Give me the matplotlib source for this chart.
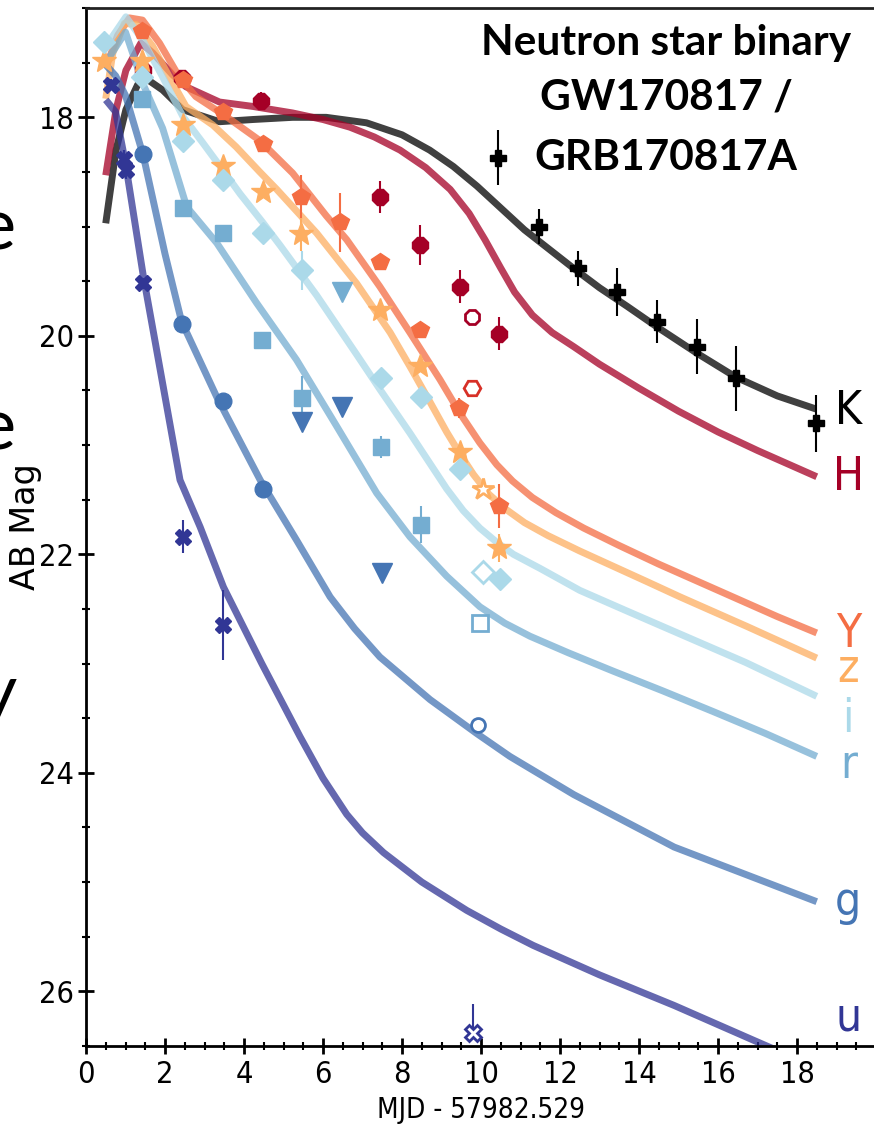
import matplotlib
matplotlib.use('Agg')
import numpy as np
import matplotlib.pyplot as plt
from matplotlib.ticker import MultipleLocator

plt.rcParams['font.family'] = ['DejaVu Sans']
plt.rcParams['font.stretch'] = 'condensed'

# ---- model light curves (days since merger, AB mag) ----
t_K = [0.5, 0.76, 1.01, 1.31, 1.5, 1.94, 2.45, 3.38, 4.22, 5.23, 6.08, 7.1, 8.0, 8.7, 9.3, 9.9,
       10.5, 11.1, 11.7, 12.3, 13.0, 13.7, 14.46, 15.47, 16.46, 17.5, 18.48]
m_K = [18.97, 18.3, 17.93, 17.7, 17.64, 17.75, 17.93, 18.04, 18.02, 18.0, 18.0, 18.05, 18.16, 18.3, 18.45, 18.63,
       18.83, 19.03, 19.2, 19.37, 19.56, 19.73, 19.92, 20.16, 20.38, 20.55, 20.67]

t_H = [0.5, 0.76, 1.01, 1.39, 1.69, 2.19, 2.53, 3.38, 4.22, 5.23, 6.0, 6.68, 7.3, 7.95, 8.6, 9.22,
       9.7, 10.1, 10.5, 10.85, 11.3, 11.8, 12.35, 13.0, 14.0, 15.0, 16.0, 17.0, 18.5]
m_H = [18.53, 17.93, 17.57, 17.32, 17.41, 17.61, 17.72, 17.86, 17.9, 17.96, 18.02, 18.09, 18.18, 18.3, 18.46, 18.66,
       18.88, 19.12, 19.38, 19.6, 19.81, 19.97, 20.1, 20.26, 20.48, 20.69, 20.88, 21.05, 21.29]

t_Y = [0.5, 0.8, 1.1, 1.43, 1.86, 2.36, 2.78, 3.54, 4.39, 5.23, 6.08, 6.6, 7.44, 8.2, 8.96, 9.47,
       9.97, 10.4, 10.8, 11.3, 11.9, 12.6, 13.5, 14.5, 15.5, 16.5, 17.5, 18.5]
m_Y = [17.55, 17.25, 17.09, 17.11, 17.32, 17.63, 17.81, 17.99, 18.21, 18.51, 18.9, 19.12, 19.55, 19.97, 20.4, 20.71,
       20.98, 21.18, 21.33, 21.48, 21.62, 21.76, 21.92, 22.09, 22.25, 22.41, 22.57, 22.72]

t_z = [0.5, 0.68, 0.97, 1.27, 1.69, 2.11, 2.53, 3.21, 3.8, 4.4, 4.83, 5.84, 6.85, 7.7, 8.2, 8.7,
       9.13, 9.5, 9.81, 10.2, 10.6, 11.1, 11.7, 12.5, 13.35, 14.2, 15.04, 16.73, 18.5]
m_z = [17.83, 17.41, 17.14, 17.15, 17.35, 17.63, 17.9, 18.07, 18.27, 18.5, 18.66, 19.06, 19.52, 19.97, 20.28, 20.6,
       20.88, 21.1, 21.27, 21.45, 21.58, 21.71, 21.83, 21.97, 22.11, 22.25, 22.39, 22.66, 22.95]

t_i = [0.5, 1.01, 1.43, 1.94, 2.45, 2.95, 3.46, 3.9, 4.47, 4.91, 5.84, 6.85, 7.44, 8.2, 9.13, 9.55,
       9.97, 10.4, 10.82, 11.5, 12.5, 13.7, 15.04, 16.7, 18.5]
m_i = [17.35, 17.08, 17.29, 17.63, 17.99, 18.23, 18.48, 18.7, 18.96, 19.17, 19.63, 20.17, 20.49, 20.89, 21.4, 21.6,
       21.76, 21.89, 22.0, 22.13, 22.33, 22.52, 22.73, 22.99, 23.3]

t_r = [0.5, 1.0, 1.45, 1.94, 2.55, 3.31, 4.32, 5.33, 6.35, 7.36, 8.2, 9.13, 9.97, 10.6, 11.24,
       12.2, 13.35, 14.6, 15.88, 17.2, 18.5]
m_r = [17.5, 17.22, 17.7, 18.1, 18.82, 19.15, 19.7, 20.22, 20.83, 21.44, 21.84, 22.2, 22.48, 22.63, 22.75,
       22.9, 23.07, 23.25, 23.44, 23.64, 23.85]

t_g = [0.5, 0.75, 1.0, 1.45, 2.0, 2.42, 3.31, 4.41, 5.33, 6.18, 6.8, 7.44, 8.71, 9.89, 10.73,
       12.35, 14.89, 18.5]
m_g = [17.52, 17.62, 17.8, 18.35, 19.25, 19.87, 20.56, 21.32, 21.87, 22.39, 22.68, 22.94, 23.33, 23.64, 23.85,
       24.2, 24.68, 25.18]

t_u = [0.5, 0.75, 1.0, 1.45, 2.38, 2.89, 3.48, 4.45, 5.42, 6.0, 6.6, 7.0, 7.53, 8.5, 9.64, 10.5,
       11.32, 13.0, 14.89, 16.91, 18.5]
m_u = [17.84, 17.95, 18.42, 19.45, 21.32, 21.75, 22.3, 23.0, 23.67, 24.05, 24.38, 24.55, 24.73, 25.0, 25.26, 25.43,
       25.58, 25.85, 26.13, 26.45, 26.7]

# ---- photometry ----
dK_t = [10.43, 11.47, 12.46, 13.44, 14.46, 15.47, 16.46, 18.48]
dK_m = [18.37, 19.0, 19.38, 19.6, 19.87, 20.1, 20.39, 20.8]
dK_e = [0.25, 0.16, 0.16, 0.22, 0.2, 0.25, 0.3, 0.26]

dH_t = [1.45, 2.43, 4.43, 7.44, 8.46, 9.47, 10.46]
dH_m = [17.57, 17.64, 17.85, 18.73, 19.17, 19.55, 19.98]
dH_e = [0.05, 0.05, 0.08, 0.15, 0.18, 0.15, 0.15]

dY_t = [1.43, 2.45, 3.46, 4.47, 5.44, 6.43, 7.44, 8.46, 9.45, 10.46]
dY_m = [17.21, 17.66, 17.95, 18.24, 18.73, 18.96, 19.32, 19.95, 20.66, 21.56]
dY_e = [0.03, 0.03, 0.03, 0.03, 0.2, 0.27, 0.03, 0.03, 0.09, 0.2]

dz_t = [0.46, 1.43, 2.45, 3.46, 4.47, 5.45, 7.44, 8.46, 9.47, 10.46]
dz_m = [17.48, 17.48, 18.07, 18.45, 18.68, 19.07, 19.76, 20.28, 21.06, 21.94]
dz_e = [0.03, 0.03, 0.03, 0.03, 0.03, 0.15, 0.03, 0.03, 0.05, 0.13]

di_t = [0.46, 1.43, 2.45, 3.46, 4.47, 5.46, 7.46, 8.47, 9.47, 10.48]
di_m = [17.31, 17.63, 18.22, 18.57, 19.06, 19.4, 20.39, 20.56, 21.22, 22.23]
di_e = [0.03, 0.03, 0.03, 0.03, 0.03, 0.18, 0.05, 0.05, 0.05, 0.05]

dr_t = [1.43, 2.45, 3.46, 4.45, 5.46, 7.46, 8.47]
dr_m = [17.83, 18.83, 19.06, 20.04, 20.57, 21.02, 21.73]
dr_e = [0.03, 0.03, 0.03, 0.03, 0.2, 0.1, 0.17]

dg_t = [1.45, 2.42, 3.46, 4.47]
dg_m = [18.34, 19.89, 20.6, 21.4]
dg_e = [0.03, 0.03, 0.03, 0.05]

du_t = [0.63, 0.97, 1.01, 1.44, 2.45, 3.46]
du_m = [17.7, 18.38, 18.48, 19.52, 21.84, 22.65]
du_e = [0.05, 0.08, 0.08, 0.05, 0.15, 0.32]

# upper limits (triangles) and late open symbols
lim_r_t, lim_r_m = [6.47], [19.6]
lim_g_t, lim_g_m = [5.46, 6.47, 7.49], [20.79, 20.65, 22.17]

open_H_t, open_H_m = [9.77, 9.77], [19.83, 20.48]
open_z_t, open_z_m = [10.04], [21.4]
open_i_t, open_i_m = [10.04], [22.16]
open_r_t, open_r_m = [9.97], [22.63]
open_g_t, open_g_m = [9.92], [23.56]
open_u_t, open_u_m = [9.8], [26.38]

bands = ['K', 'H', 'Y', 'z', 'i', 'r', 'g', 'u']
colores = ['#000000', '#a50026', '#f46d43', '#fdae61', '#abd9e9', '#74add1', '#4575b4', '#313695']
marcadores = ['P', '8', 'p', '*', 'D', 's', 'o', 'X']
tamanos = [11, 13, 13, 18, 11, 11, 12, 12]
label_y = [20.81, 21.41, 22.85, 23.17, 23.63, 24.05, 25.3, 26.36]

modelos = [(t_K, m_K), (t_H, m_H), (t_Y, m_Y), (t_z, m_z), (t_i, m_i), (t_r, m_r), (t_g, m_g), (t_u, m_u)]
datos = [(dK_t, dK_m, dK_e), (dH_t, dH_m, dH_e), (dY_t, dY_m, dY_e), (dz_t, dz_m, dz_e),
         (di_t, di_m, di_e), (dr_t, dr_m, dr_e), (dg_t, dg_m, dg_e), (du_t, du_m, du_e)]

fig = plt.figure(figsize=(8.74, 11.24), dpi=100)
ax = fig.add_axes([0.0984, 0.0695, 0.9039, 0.9233])

# model lines first
for (t, m), c in zip(modelos, colores):
    ax.plot(t, m, color=c, alpha=0.75, lw=5, solid_capstyle='butt', solid_joinstyle='round', zorder=2)

# photometry (draw H and K first so the others sit on top)
orden = [1, 0, 7, 6, 5, 4, 3, 2]
for k in orden:
    t, m, e = datos[k]
    ax.errorbar(t, m, yerr=e, fmt=marcadores[k], color=colores[k], ms=tamanos[k],
                mec=colores[k], elinewidth=1.5, capsize=0, zorder=3 + 0.1 * k)

# upper limits
ax.plot(lim_r_t, lim_r_m, 'v', color='#74add1', ms=14, zorder=4)
ax.plot(lim_g_t, lim_g_m, 'v', color='#4575b4', ms=14, zorder=4)

# open symbols
ax.plot(open_H_t[:1], open_H_m[:1], '8', mfc='white', mec='#a50026', mew=2, ms=11, zorder=4)
ax.plot(open_H_t[1:], open_H_m[1:], 'H', mfc='white', mec='#d73027', mew=2, ms=12, zorder=4)
ax.plot(open_z_t, open_z_m, '*', mfc='white', mec='#fdae61', mew=2, ms=16, zorder=4)
ax.plot(open_i_t, open_i_m, 'D', mfc='white', mec='#abd9e9', mew=2, ms=11, zorder=4)
ax.plot(open_r_t, open_r_m, 's', mfc='white', mec='#74add1', mew=2, ms=11, zorder=4)
ax.plot(open_g_t, open_g_m, 'o', mfc='white', mec='#4575b4', mew=2, ms=10, zorder=4)
ax.errorbar(open_u_t, open_u_m, yerr=[[0.26], [0.0]], fmt='X', mfc='white', mec='#313695',
            ecolor='#313695', mew=2, ms=11, elinewidth=1.5, capsize=0, zorder=4)

# band names at the right end of each curve
for b, c, yb in zip(bands, colores, label_y):
    ax.text(19.3, yb, b, color=c, fontsize=33, ha='center', va='baseline')

ax.set_xlim(0, 20)
ax.set_ylim(26.5, 17.0)
ax.set_xticks(np.arange(0, 19, 2))
ax.xaxis.set_minor_locator(MultipleLocator(0.5))
ax.yaxis.set_major_locator(MultipleLocator(2))
ax.yaxis.set_minor_locator(MultipleLocator(0.5))
ax.tick_params(which='major', direction='inout', length=11, width=2, labelsize=22)
ax.tick_params(which='minor', direction='inout', length=6, width=1.5)
ax.tick_params(axis='y', which='major', pad=3)
ax.tick_params(axis='x', which='major', pad=5)
ax.spines['right'].set_visible(False)
for s in ['left', 'bottom', 'top']:
    ax.spines[s].set_linewidth(2)
ax.spines['top'].set_color('#222222')

ax.set_xlabel('MJD - 57982.529', fontsize=20)
ax.xaxis.set_label_coords(0.5, -0.048)
ax.set_ylabel('AB Mag', fontsize=24, fontstretch='normal')
ax.yaxis.set_label_coords(-0.056, 0.5)

# titulo
titulo = ['Neutron star binary', 'GW170817 /', 'GRB170817A']
for linea, yy in zip(titulo, [55, 110, 170]):
    fig.text(666 / 874, 1 - yy / 1124, linea, fontsize=30.5, fontweight='bold',
             family=['Lato', 'DejaVu Sans'], fontstretch='normal', ha='center', va='baseline')

# fragments of neighbouring slide text, cut at the left border
for letra, yy in zip(['e', 'e', 'y'], [250, 450, 715]):
    fig.text(16 / 874, 1 - yy / 1124, letra, fontsize=52, family=['Lato', 'DejaVu Sans'],
             fontstretch='normal', ha='right', va='baseline')

fig.savefig('out.png', dpi=100)
